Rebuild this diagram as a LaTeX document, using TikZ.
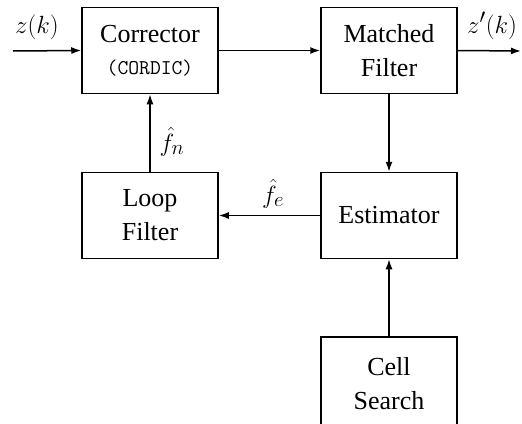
\documentclass[tikz,border=0pt]{standalone}
\usepackage{fontspec}
\setmainfont{Liberation Serif}
\usetikzlibrary{arrows.meta}
\tikzset{
  block/.style={draw, line width=1.5pt, minimum width=136pt, minimum height=86pt,
    align=center, inner sep=0pt, font=\fontsize{26}{34}\selectfont},
  flow/.style={line width=1.5pt, -{Latex[length=10pt,width=7pt]}},
  lbl/.style={font=\fontsize{28}{30}\selectfont, inner sep=0pt}
}
\begin{document}
\begin{tikzpicture}[x=1pt,y=-1pt]
  \useasboundingbox (0,0) rectangle (522,423);
  % processing blocks
  \node[block] (corr) at (150,50.5) {Corrector\\[-2pt]{\ttfamily\fontsize{21}{25}\selectfont (CORDIC)}};
  \node[block] (mf) at (389,50.5) {Matched\\Filter};
  \node[block] (lf) at (150,215.5) {Loop\\Filter};
  \node[block] (est) at (389,215.5) {Estimator};
  % the search block runs on below the lower edge
  \node[block, minimum height=100pt] (cs) at (389,387) {Cell\\Search\\[-26pt]\mbox{}};
  % signal ends
  \coordinate (in) at (13,51);
  \coordinate (out) at (521,51);
  % connectors
  \draw[flow] (in) -- (corr.west);
  \draw[flow] (corr.east) -- (mf.west);
  \draw[flow] (mf.east) -- (out);
  \draw[flow] (mf.south) -- (est.north);
  \draw[flow] (est.west) -- (lf.east);
  \draw[flow] (lf.north) -- (corr.south);
  \draw[flow] (cs.north) -- (est.south);
  % labels
  \node[lbl, anchor=base] (zin) at (37,33) {$z(k)$};
  \node[lbl, anchor=base] (zout) at (492,33) {$z'(k)$};
  \node[lbl, anchor=base] (fn) at (172,151) {$\hat{f}_n$};
  \node[lbl, anchor=base] (fe) at (273,203) {$\hat{f}_e$};
\end{tikzpicture}
\end{document}
